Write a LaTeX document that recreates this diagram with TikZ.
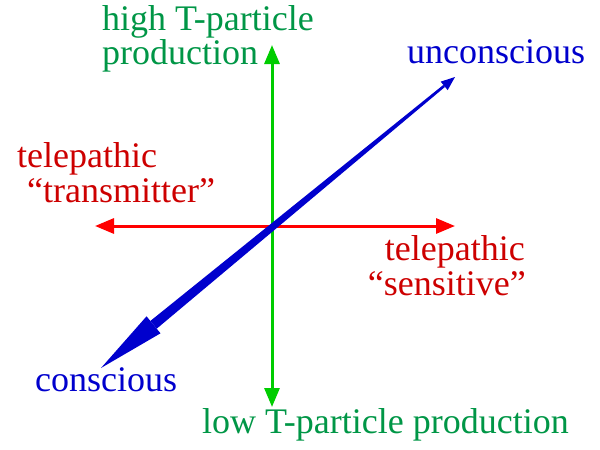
\documentclass[tikz,border=0pt]{standalone}
\usepackage{fontspec}
\setmainfont{Liberation Serif}
\usetikzlibrary{arrows.meta,calc}
\definecolor{txtgreen}{RGB}{0,150,70}
\definecolor{arrgreen}{RGB}{0,205,0}
\definecolor{txtred}{RGB}{205,0,0}
\definecolor{arrred}{RGB}{255,0,0}
\definecolor{myblue}{RGB}{0,0,205}
\tikzset{
  lbl/.style={anchor=base west, inner sep=0pt, font=\fontsize{36}{31}\selectfont},
  axis2/.style={line width=3pt, {Triangle[length=19pt,width=15pt]}-{Triangle[length=19pt,width=15pt]}},
}
\begin{document}
\begin{tikzpicture}[x=1pt,y=-1pt]
\useasboundingbox (0,0) rectangle (600,450);
% axes end points
\coordinate (rl) at (95,226);
\coordinate (rr) at (455,226);
\coordinate (gt) at (272,45);
\coordinate (gb) at (272,407);
\coordinate (U) at (455,77);
\coordinate (L) at (101,368);
% red and green axes
\draw[axis2, arrred] (rl) -- (rr);
\draw[axis2, arrgreen] (gt) -- (gb);
% blue tapered axis
\coordinate (Ub) at ($(U)!14pt!(L)$);
\coordinate (Lb) at ($(L)!68pt!(U)$);
\fill[myblue] ($(Ub)!1.3pt!90:(L)$) -- ($(Ub)!1.3pt!-90:(L)$) -- ($(Lb)!5pt!90:(U)$) -- ($(Lb)!5pt!-90:(U)$) -- cycle;
\fill[myblue] (U) -- ($(Ub)!5.5pt!90:(L)$) -- ($(Ub)!5.5pt!-90:(L)$) -- cycle;
\fill[myblue] (L) -- ($(Lb)!11pt!90:(U)$) -- ($(Lb)!11pt!-90:(U)$) -- cycle;
% labels
\node[lbl, txtgreen] (h1) at (102,30.5) {high T-particle};
\node[lbl, txtgreen] (h2) at (102,64.5) {production};
\node[lbl, txtgreen] (lo) at (202,433) {low T-particle production};
\node[lbl, myblue] (un) at (407,63) {unconscious};
\node[lbl, myblue] (co) at (35,391) {conscious};
\node[lbl, txtred] (t1) at (17,167) {telepathic};
\node[lbl, txtred] (t2) at (27,202) {“transmitter”};
\node[lbl, txtred, anchor=base east] (s1) at (525,260) {telepathic};
\node[lbl, txtred, anchor=base east] (s2) at (526,295) {“sensitive”};
\end{tikzpicture}
\end{document}
